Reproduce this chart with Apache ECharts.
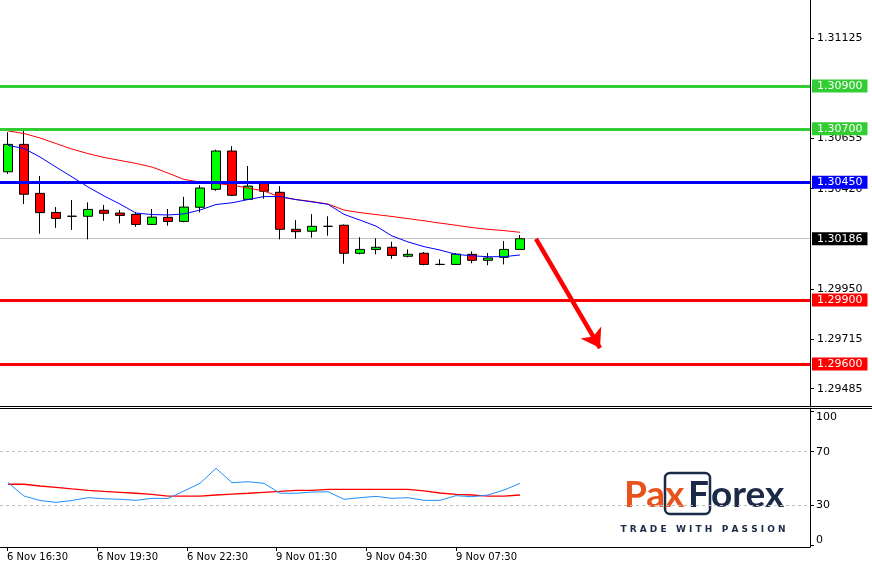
<!DOCTYPE html>
<html><head><meta charset="utf-8">
<script src="https://cdn.jsdelivr.net/npm/echarts@6/dist/echarts.min.js"></script>
<style>html,body{margin:0;padding:0;background:#fff}#c{width:872px;height:569px}</style>
</head><body><div id="c"></div>
<script>
// ---- data ----
const opens  = [1.30499,1.30627,1.30398,1.30309,1.30291,1.30291,1.30319,1.30306,1.30300,1.30253,1.30286,1.30267,1.30333,1.30417,1.30596,1.30370,1.30446,1.30403,1.30230,1.30221,1.30244,1.30249,1.30118,1.30136,1.30146,1.30104,1.30118,1.30066,1.30066,1.30113,1.30085,1.30099,1.30136];
const closes = [1.30627,1.30394,1.30308,1.30281,1.30291,1.30323,1.30305,1.30295,1.30253,1.30287,1.30267,1.30334,1.30423,1.30596,1.30389,1.30432,1.30408,1.30230,1.30219,1.30244,1.30244,1.30118,1.30136,1.30146,1.30108,1.30113,1.30066,1.30066,1.30114,1.30085,1.30096,1.30136,1.30186];
const highs  = [1.30684,1.30690,1.30479,1.30334,1.30367,1.30356,1.30344,1.30320,1.30309,1.30325,1.30325,1.30382,1.30436,1.30602,1.30619,1.30526,1.30456,1.30432,1.30273,1.30301,1.30291,1.30253,1.30193,1.30188,1.30172,1.30136,1.30124,1.30090,1.30119,1.30127,1.30119,1.30175,1.30203];
const lows   = [1.30489,1.30348,1.30209,1.30237,1.30227,1.30183,1.30270,1.30258,1.30242,1.30250,1.30247,1.30263,1.30309,1.30410,1.30386,1.30367,1.30373,1.30183,1.30186,1.30191,1.30200,1.30069,1.30113,1.30113,1.30092,1.30099,1.30062,1.30062,1.30066,1.30071,1.30062,1.30066,1.30136];
const maSlow = [1.30690,1.30678,1.30657,1.30631,1.30605,1.30584,1.30566,1.30552,1.30538,1.30521,1.30493,1.30463,1.30451,1.30444,1.30437,1.30423,1.30409,1.30381,1.30369,1.30360,1.30348,1.30320,1.30308,1.30299,1.30290,1.30280,1.30270,1.30259,1.30249,1.30238,1.30230,1.30224,1.30216];
const maFast = [1.30622,1.30608,1.30568,1.30521,1.30475,1.30428,1.30386,1.30348,1.30306,1.30299,1.30297,1.30302,1.30320,1.30346,1.30354,1.30369,1.30383,1.30383,1.30369,1.30358,1.30347,1.30300,1.30273,1.30245,1.30199,1.30171,1.30149,1.30133,1.30113,1.30106,1.30102,1.30102,1.30110];
const oscMain   = [46.9,36.9,33.6,32.2,33.6,35.7,34.9,34.5,33.7,35.2,35.1,40.7,46.4,57.6,46.9,47.6,46.4,39.0,39.0,39.9,40.1,34.5,35.7,36.7,35.2,35.7,33.7,33.7,37.2,36.4,37.7,41.4,46.4];
const oscSignal = [45.7,45.7,44.4,43.4,42.2,41.2,40.4,39.7,39.0,38.2,36.9,36.9,36.9,37.7,38.4,39.0,39.7,40.4,41.2,41.2,41.9,41.9,41.9,41.9,41.9,41.9,40.7,39.2,38.2,37.7,36.9,36.9,37.7];
const timeLabels   = ['6 Nov 16:30','6 Nov 19:30','6 Nov 22:30','9 Nov 01:30','9 Nov 04:30','9 Nov 07:30'];
const timeLabelPos = [-0.06, 5.56, 11.19, 16.75, 22.38, 28.0];
const priceTicks = [1.31125, 1.30655, 1.30420, 1.29950, 1.29715, 1.29485];
const resistanceLevels = [1.30900, 1.30700];
const pivotLevel = 1.30450;
const supportLevels = [1.29900, 1.29600];
const currentPrice = 1.30186;
const oscTicks = [0, 30, 70, 100];
const oscLevels = [70, 30];
const arrowStart = [33.0, 1.30185];
const arrowEnd = [37.0, 1.29675];

// ---- chart ----
const FONT = 'DejaVu Sans';
const idx = opens.map((_, i) => i);
const candles = idx.map(i => [i, opens[i], closes[i], lows[i], highs[i]]);
const pair = arr => arr.map((v, i) => [i, v]);
const lvlLabel = (bg) => ({show: true, position: 'end', distance: 2, color: '#fff', backgroundColor: bg,
  fontFamily: FONT, fontSize: 11, padding: [1, 5, 1, 5], formatter: p => Number(p.value).toFixed(5)});
const lvl = (v, c) => ({yAxis: v, lineStyle: {color: c, width: 3, type: 'solid'}, label: lvlLabel(c)});
const LOGO_NAVY = '#1b2a47', LOGO_ORANGE = '#e8521c';
const logoFont = {fontFamily: 'Lato', fontWeight: 'bold', fontSize: 37, verticalAlign: 'middle'};

const chart = echarts.init(document.getElementById('c'), null, {renderer: 'canvas'});
chart.setOption({
  animation: false,
  backgroundColor: '#fff',
  grid: [
    {left: 0, right: 62, top: 0, height: 406},
    {left: 0, right: 62, top: 408, height: 139}
  ],
  xAxis: [
    {type: 'value', gridIndex: 0, min: -0.5, max: 50.125, show: false},
    {type: 'value', gridIndex: 1, min: -0.5, max: 50.125,
      axisLine: {show: true, onZero: false, lineStyle: {color: '#000', width: 1}},
      axisTick: {show: true, length: 4, lineStyle: {color: '#000'}, customValues: timeLabelPos},
      axisLabel: {show: true, customValues: timeLabelPos, align: 'left', margin: 5, color: '#000',
        fontFamily: FONT, fontSize: 10,
        formatter: v => timeLabels[timeLabelPos.indexOf(v)] || ''},
      splitLine: {show: false}}
  ],
  yAxis: [
    {type: 'value', gridIndex: 0, position: 'right', min: 1.29404, max: 1.31302, scale: true,
      axisLine: {show: true, onZero: false, lineStyle: {color: '#000', width: 1}},
      axisTick: {show: true, length: 4, lineStyle: {color: '#000'}, customValues: priceTicks},
      axisLabel: {show: true, customValues: priceTicks, margin: 7, color: '#000', fontFamily: FONT, fontSize: 11,
        formatter: v => v.toFixed(5)},
      splitLine: {show: false}},
    {type: 'value', gridIndex: 1, position: 'right', min: -1.1, max: 102.6,
      axisLine: {show: true, onZero: false, lineStyle: {color: '#000', width: 1}},
      axisTick: {show: true, length: 4, lineStyle: {color: '#000'}, customValues: oscTicks},
      axisLabel: {show: true, customValues: oscTicks, margin: 6, color: '#000', fontFamily: FONT, fontSize: 11,
        formatter: v => v === 100 ? '{t|100}' : (v === 0 ? '{b|0}' : String(v)),
        rich: {t: {padding: [12, 0, 0, 0], fontFamily: FONT, fontSize: 11, color: '#000'},
               b: {padding: [0, 0, 10, 0], fontFamily: FONT, fontSize: 11, color: '#000'}}},
      splitLine: {show: false}}
  ],
  series: [
    {type: 'line', xAxisIndex: 0, yAxisIndex: 0, data: [], silent: true,
      markLine: {silent: true, z: 1, symbol: 'none', animation: false, precision: 5,
        data: [{yAxis: currentPrice, lineStyle: {color: '#c0c0c0', width: 1, type: 'solid'}, label: lvlLabel('#000')}]}},
    {type: 'candlestick', xAxisIndex: 0, yAxisIndex: 0, data: candles, encode: {x: 0, y: [1, 2, 3, 4]},
      barWidth: 9, z: 2,
      itemStyle: {color: '#00ff00', color0: '#ff0000', borderColor: '#000', borderColor0: '#000', borderWidth: 1}},
    {type: 'line', xAxisIndex: 0, yAxisIndex: 0, data: pair(maSlow), showSymbol: false, z: 3,
      lineStyle: {color: '#ff0000', width: 1}},
    {type: 'line', xAxisIndex: 0, yAxisIndex: 0, data: pair(maFast), showSymbol: false, z: 3,
      lineStyle: {color: '#0000ff', width: 1}},
    {type: 'line', xAxisIndex: 0, yAxisIndex: 0, data: [], silent: true,
      markLine: {silent: true, z: 5, symbol: 'none', animation: false, precision: 5,
        data: [
          ...resistanceLevels.map(v => lvl(v, '#32cd32')),
          lvl(pivotLevel, '#0000ff'),
          ...supportLevels.map(v => lvl(v, '#ff0000')),
          [{coord: arrowStart, symbol: 'none', lineStyle: {color: '#ff0000', width: 4.5, type: 'solid'}, label: {show: false}},
           {coord: arrowEnd, symbol: 'arrow', symbolSize: 18}]
        ]}},
    {type: 'line', xAxisIndex: 1, yAxisIndex: 1, data: pair(oscSignal), showSymbol: false, z: 3,
      lineStyle: {color: '#ff0000', width: 1.3},
      markLine: {silent: true, z: 1, symbol: 'none', animation: false, label: {show: false},
        lineStyle: {color: '#c0c0c0', width: 1, type: [3, 3]},
        data: oscLevels.map(v => ({yAxis: v}))}},
    {type: 'line', xAxisIndex: 1, yAxisIndex: 1, data: pair(oscMain), showSymbol: false, z: 3,
      lineStyle: {color: '#1e90ff', width: 1}}
  ],
  graphic: [
    {type: 'line', shape: {x1: 0, y1: 406.5, x2: 872, y2: 406.5}, style: {stroke: '#000', lineWidth: 1}, z: 10},
    {type: 'line', shape: {x1: 0, y1: 408.5, x2: 872, y2: 408.5}, style: {stroke: '#000', lineWidth: 1}, z: 10},
    {type: 'group', z: 20, children: [
      {type: 'rect', shape: {x: 618, y: 468, width: 172, height: 68}, style: {fill: '#fff'}},
      {type: 'rect', shape: {x: 665, y: 473, width: 45, height: 41, r: 5}, style: {fill: 'none', stroke: LOGO_NAVY, lineWidth: 2.5}},
      {type: 'text', x: 624, y: 495, style: Object.assign({text: 'Pa', fill: LOGO_ORANGE}, logoFont)},
      {type: 'text', x: 665, y: 495, style: Object.assign({text: 'x', fill: LOGO_ORANGE}, logoFont)},
      {type: 'text', x: 688, y: 495, style: Object.assign({text: 'F', fill: LOGO_NAVY}, logoFont)},
      {type: 'text', x: 711, y: 495, style: Object.assign({text: 'orex', fill: LOGO_NAVY}, logoFont)},
      {type: 'text', x: 703, y: 530, style: {text: 'T R A D E   W I T H   P A S S I O N', align: 'center', verticalAlign: 'middle',
        fill: LOGO_NAVY, fontFamily: FONT, fontWeight: 'bold', fontSize: 9}}
    ]}
  ]
});
</script></body></html>
